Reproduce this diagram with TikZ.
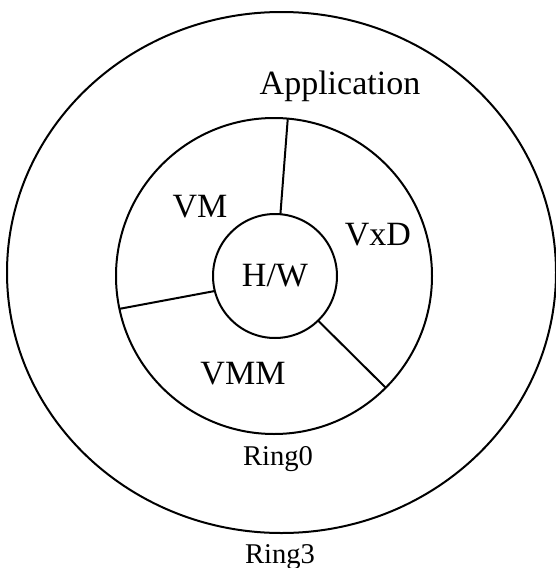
\documentclass[tikz,border=0pt]{standalone}
\usepackage{fontspec}
\setmainfont{Liberation Serif}
\usetikzlibrary{shapes.geometric}

\begin{document}
\begin{tikzpicture}[x=1pt, y=-1pt, line width=2pt,
  ring/.style={draw, circle, inner sep=0pt, outer sep=0pt},
  lbl/.style={font=\fontsize{34}{40}\selectfont, inner sep=0pt, anchor=base},
  ringlbl/.style={font=\fontsize{28.6}{34}\selectfont, inner sep=0pt, anchor=base}]
\useasboundingbox (0,0) rectangle (556,568);

% Rings
\node[draw, ellipse, inner sep=0pt, outer sep=0pt, minimum width=549pt, minimum height=521pt] at (281.5,272.5) (ring3) {};
\node[ring, minimum size=316pt] at (274,276) (ring0) {};
\node[ring, minimum size=124pt, font=\fontsize{34}{40}\selectfont] at (275,276) (hw) {H/W};

% Dividers between the Ring0 parts
\draw (hw.85) -- (ring0.85);
\draw (hw.194) -- (ring0.192);
\draw (hw.314) -- (ring0.315);

% Labels
\node[lbl] at (340,94) (app) {Application};
\node[lbl] at (200,217) (vm) {VM};
\node[lbl] at (378,245) (vxd) {VxD};
\node[lbl] at (243,384) (vmm) {VMM};
\node[ringlbl] at (278,465) (r0) {Ring0};
\node[ringlbl] at (280,563) (r3) {Ring3};
\end{tikzpicture}
\end{document}
